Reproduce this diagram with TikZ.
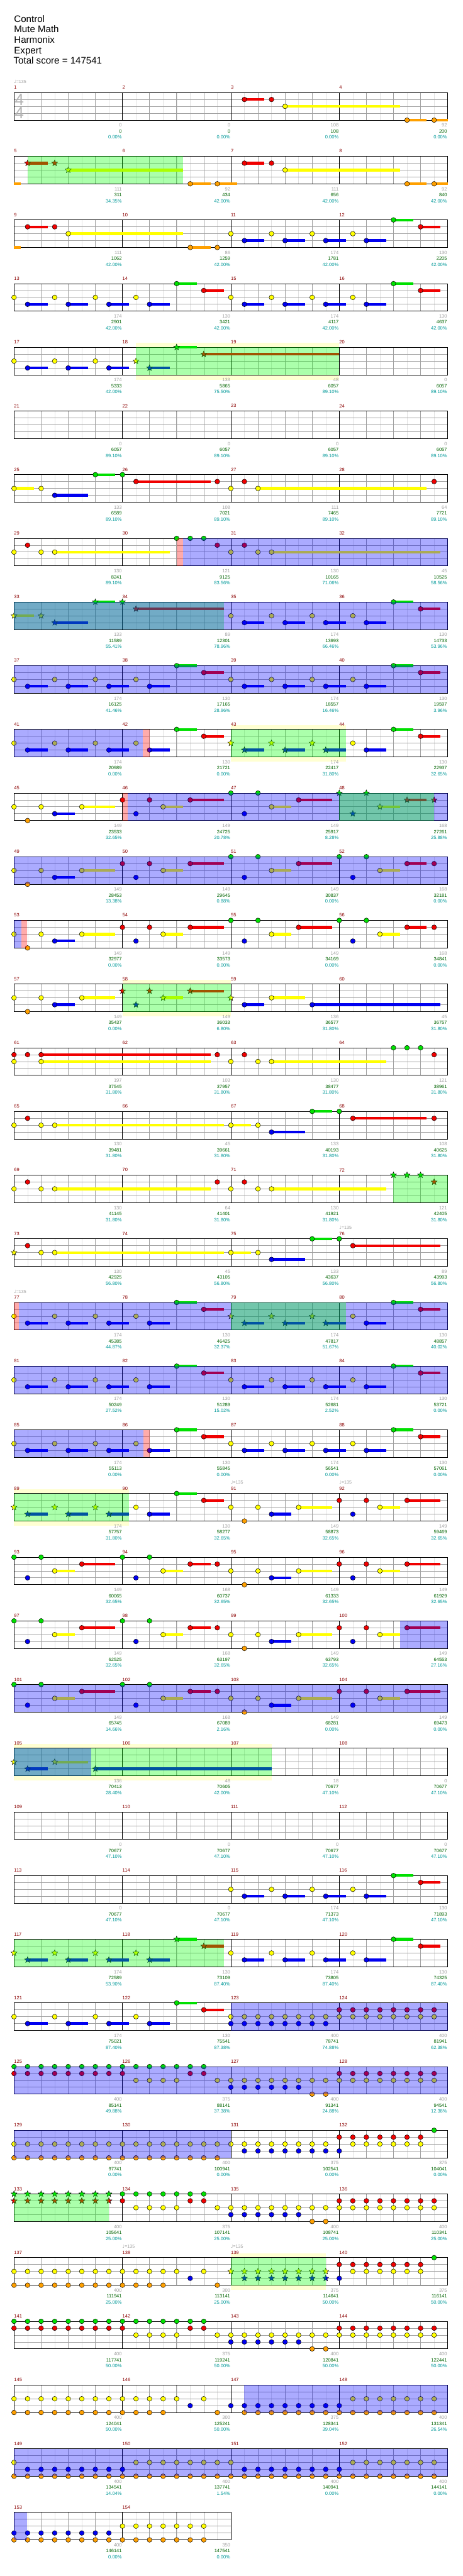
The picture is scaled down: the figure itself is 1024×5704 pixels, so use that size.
\documentclass[tikz,border=0pt]{standalone}
\usepackage{fontspec}
\setmainfont{Liberation Sans}
\newfontfamily\symf{DejaVu Sans}
\usetikzlibrary{shapes.geometric}
\definecolor{cG}{HTML}{00E000}
\definecolor{cR}{HTML}{F00000}
\definecolor{cY}{HTML}{FFFF00}
\definecolor{cB}{HTML}{0000F0}
\definecolor{cO}{HTML}{FFA000}
\definecolor{mred}{HTML}{8B0000}
\definecolor{ngray}{HTML}{A0A0A0}
\definecolor{ngreen}{HTML}{006400}
\definecolor{nteal}{HTML}{009999}
\definecolor{hlY}{HTML}{FFFFD2}
\definecolor{lgrid}{HTML}{E2E2E2}
\definecolor{bgrid}{HTML}{A0A0A0}
\definecolor{tsg}{HTML}{B4B4B4}
\tikzset{
 rowat/.style={shift={(31pt,{-205pt-141pt*(#1)})},x=60pt,y=-15.25pt},
 note/.style={circle,draw=black,line width=0.7pt,minimum size=10.6pt,inner sep=0pt},
 snote/.style={star,star points=5,star point ratio=2.3,draw=black,line width=0.6pt,minimum size=14pt,inner sep=0pt},
 sus/.style={line width=6pt},
 mnum/.style={anchor=west,inner sep=0pt,text=mred,font=\fontsize{10.5}{12}\selectfont},
 snum/.style={anchor=east,inner sep=0pt,font=\fontsize{10.5}{12}\selectfont},
 tmp/.style={anchor=west,inner sep=0pt,text=ngray,font=\fontsize{10}{12}\selectfont},
 tsig/.style={anchor=west,inner sep=0pt,text=tsg,font=\fontsize{36}{40}\selectfont},
 hdr/.style={anchor=base west,inner sep=0pt,font=\fontsize{21}{24}\selectfont},
}
\newcommand\nt[3]{\node[note,fill=#3] at (#1,#2) {};}
\newcommand\stn[3]{\node[snote,fill=#3] at (#1,#2) {};}
\newcommand\su[4]{\draw[sus,#4] (#1,#3) -- (#2,#3);}
\newcommand\nG[1]{\nt{#1}{0}{cG}}
\newcommand\nR[1]{\nt{#1}{1}{cR}}
\newcommand\nY[1]{\nt{#1}{2}{cY}}
\newcommand\nB[1]{\nt{#1}{3}{cB}}
\newcommand\nO[1]{\nt{#1}{4}{cO}}
\newcommand\sG[2]{\su{#1}{#2}{0}{cG}\nG{#1}}
\newcommand\sR[2]{\su{#1}{#2}{1}{cR}\nR{#1}}
\newcommand\sY[2]{\su{#1}{#2}{2}{cY}\nY{#1}}
\newcommand\sB[2]{\su{#1}{#2}{3}{cB}\nB{#1}}
\newcommand\sO[2]{\su{#1}{#2}{4}{cO}\nO{#1}}
\newcommand\tG[1]{\stn{#1}{0}{cG}}
\newcommand\tR[1]{\stn{#1}{1}{cR}}
\newcommand\tY[1]{\stn{#1}{2}{cY}}
\newcommand\tB[1]{\stn{#1}{3}{cB}}
\newcommand\uG[2]{\su{#1}{#2}{0}{cG}\tG{#1}}
\newcommand\uR[2]{\su{#1}{#2}{1}{cR}\tR{#1}}
\newcommand\uY[2]{\su{#1}{#2}{2}{cY}\tY{#1}}
\newcommand\uB[2]{\su{#1}{#2}{3}{cB}\tB{#1}}
\newcommand\ovG[2]{\fill[green,opacity=.33] (#1,0) rectangle (#2,4);}
\newcommand\ovB[2]{\fill[blue,opacity=.33] (#1,0) rectangle (#2,4);}
\newcommand\ovP[2]{\fill[red,opacity=.33] (#1,0) rectangle (#2,4);}
\newcommand\hl[2]{\fill[hlY] (#1,-0.66) rectangle (#2,4.72);}
\newcommand\tempo[1]{\node[tmp] at (#1,-1.6) {{\symf\symbol{"2669}}=135};}
\newcommand\scr[4]{\node[snum,text=ngray] at ({4*#1+3.98},4.75) {#2};\node[snum,text=ngreen] at ({4*#1+3.98},5.61) {#3};\node[snum,text=nteal] at ({4*#1+3.98},6.48) {#4\%};}
\newcommand\staff[2]{%
 \pgfmathtruncatemacro\nb{4*#2}%
 \pgfmathtruncatemacro\nm{#2-1}%
 \fill[white] (0,0) rectangle (\nb,4);
 \foreach \i in {0.5,1,...,\nb} \draw[lgrid,line width=0.7pt] (\i,0) -- (\i,4);
 \foreach \i in {1,...,\nb} \draw[bgrid,line width=0.8pt] (\i,0) -- (\i,4);
 \foreach \j in {1,2,3} \draw[bgrid,line width=1.1pt] (0,\j) -- (\nb,\j);
 \foreach \i in {4,8,...,\nb} \draw[black,line width=0.6pt] (\i,0) -- (\i,4);
 \draw[black,line width=1.2pt] (0,0) rectangle (\nb,4);
 \foreach \k in {0,...,\nm}{\pgfmathtruncatemacro\mm{#1+\k}\node[mnum] at (4*\k,-0.74) {\mm};}
}
\newcommand\patA[1]{\nY{#1}\sB{#1+0.5}{#1+1.24}\nY{#1+1.5}\sB{#1+2}{#1+2.74}\nY{#1+3}\sB{#1+3.5}{#1+4.24}\nY{#1+4.5}\sB{#1+5}{#1+5.74}\sG{#1+6}{#1+6.74}\sR{#1+7}{#1+7.74}}
\newcommand\patAs[1]{\tY{#1}\uB{#1+0.5}{#1+1.24}\tY{#1+1.5}\uB{#1+2}{#1+2.74}\tY{#1+3}\uB{#1+3.5}{#1+4.24}\tY{#1+4.5}\uB{#1+5}{#1+5.74}\uG{#1+6}{#1+6.74}\uR{#1+7}{#1+7.74}}
\newcommand\patD{\tY{8}\uB{8.5}{9.24}\tY{9.5}\uB{10}{10.74}\tY{11}\uB{11.5}{12.24}\nY{12.5}\sB{13}{13.74}\sG{14}{14.74}\sR{15}{15.74}}
\newcommand\patBa{\nY{0}\nO{0.5}\nY{1}\sB{1.5}{2.24}\sY{2.5}{3.74}}
\newcommand\patBb{\nR{4}\nB{4.5}\nR{5}\sY{5.5}{6.24}\sR{6.5}{7.74}\nG{8}\nB{8.5}\nG{9}\sY{9.5}{10.23}\sR{10.5}{11.74}}
\newcommand\patBc{\nG{12}\nB{12.5}\nG{13}\sY{13.5}{14.24}\sR{14.5}{15.23}\nR{15.5}}
\newcommand\patCa{\nG{0}\nB{0.5}\nG{1}\sY{1.5}{2.24}\sR{2.5}{3.74}\nG{4}\nB{4.5}\nG{5}\sY{5.5}{6.24}\sR{6.5}{7.25}\nR{7.5}}
\newcommand\patCb{\nY{8}\nO{8.5}\nY{9}\sB{9.5}{10.23}\sY{10.5}{11.74}\nR{12}\nB{12.5}\nR{13}\sY{13.5}{14.24}\sR{14.5}{15.73}}
\newcommand\patEb{\foreach \q in {4,4.5,...,7}{\nG{\q}}\nR{4}\foreach \q in {4.5,5,...,6}{\nY{\q}}\nR{6.5}\nR{7}\nY{7.5}\foreach \q in {8,8.5,...,10.5}{\nY{\q}\nB{\q}}\nY{11}\nO{11}\nY{11.5}\nO{11.5}\foreach \q in {12,12.5,...,15.5}{\nR{\q}\nY{\q}}}
\newcommand\patE{\foreach \q in {0,0.5,...,3.5}{\nG{\q}\nR{\q}}\patEb}
\begin{document}
\begin{tikzpicture}
\path[use as bounding box,fill=white] (0pt,0pt) rectangle (1024pt,-5704pt);
\node[hdr] at (31pt,-49.3pt) {Control};
\node[hdr] at (31pt,-72.4pt) {Mute Math};
\node[hdr] at (31pt,-95.5pt) {Harmonix};
\node[hdr] at (31pt,-118.6pt) {Expert};
\node[hdr] at (30pt,-141.7pt) {Total score = 147541};
% row 0
\begin{scope}[rowat=0]
\staff{1}{4}
\node[tsig] at (0.03,1) {4};\node[tsig] at (0.03,3) {4};
\tempo{0}
\sR{8.5}{9.24}\nR{9.5}\sY{10}{14.24}\sO{14.5}{15.23}\sO{15.5}{16}
\scr{0}{0}{0}{0.00}\scr{1}{0}{0}{0.00}\scr{2}{108}{108}{0.00}\scr{3}{92}{200}{0.00}
\end{scope}
% row 1
\begin{scope}[rowat=1]
\staff{5}{4}
\su{0}{0.24}{4}{cO}\uR{0.5}{1.24}\tR{1.5}\uY{2}{6.24}\sO{6.5}{7.25}\sO{7.5}{8.24}\sR{8.5}{9.24}\nR{9.5}\sY{10}{14.24}\sO{14.5}{15.23}\sO{15.5}{16}
\ovG{0.5}{6.24}
\scr{0}{111}{311}{34.35}\scr{1}{92}{434}{42.00}\scr{2}{111}{656}{42.00}\scr{3}{92}{840}{42.00}
\end{scope}
% row 2
\begin{scope}[rowat=2]
\staff{9}{4}
\su{0}{0.24}{4}{cO}\sR{0.5}{1.24}\nR{1.5}\sY{2}{6.24}\sO{6.5}{7.25}\nO{7.5}\patA{8}
\scr{0}{111}{1062}{42.00}\scr{1}{86}{1259}{42.00}\scr{2}{174}{1781}{42.00}\scr{3}{130}{2205}{42.00}
\end{scope}
% row 3
\begin{scope}[rowat=3]
\staff{13}{4}
\patA{0}\patA{8}
\scr{0}{174}{2901}{42.00}\scr{1}{130}{3421}{42.00}\scr{2}{174}{4117}{42.00}\scr{3}{130}{4637}{42.00}
\end{scope}
% row 4
\begin{scope}[rowat=4]
\hl{4.5}{12}
\staff{17}{4}
\nY{0}\sB{0.5}{1.24}\nY{1.5}\sB{2}{2.74}\nY{3}\sB{3.5}{4.24}\tY{4.5}\uB{5}{5.74}\uG{6}{6.74}\uR{7}{12}
\ovG{4.5}{12}
\scr{0}{174}{5333}{42.00}\scr{1}{133}{5865}{75.50}\scr{2}{48}{6057}{89.10}\scr{3}{0}{6057}{89.10}
\end{scope}
% row 5
\begin{scope}[rowat=5]
\staff{21}{4}
\scr{0}{0}{6057}{89.10}\scr{1}{0}{6057}{89.10}\scr{2}{0}{6057}{89.10}\scr{3}{0}{6057}{89.10}
\end{scope}
% row 6
\begin{scope}[rowat=6]
\staff{25}{4}
\sY{0}{0.74}\nY{1}\sB{1.5}{2.74}\sG{3}{3.74}\nG{4}\sR{4.5}{7.25}\nR{7.5}\nY{8}\nR{8.5}\sY{9}{15.23}\nR{15.5}
\scr{0}{133}{6589}{89.10}\scr{1}{108}{7021}{89.10}\scr{2}{111}{7465}{89.10}\scr{3}{64}{7721}{89.10}
\end{scope}
% row 7
\begin{scope}[rowat=7]
\staff{29}{4}
\nY{0}\nR{0.5}\nY{1}\sY{1.5}{5.74}\nG{6}\nG{6.5}\nG{7}\nR{7.5}\nY{8}\nR{8.5}\nY{9}\sY{9.5}{15.73}
\ovP{6}{6.24}\ovB{6.24}{16}
\scr{0}{130}{8241}{89.10}\scr{1}{121}{9125}{83.56}\scr{2}{130}{10165}{71.06}\scr{3}{45}{10525}{58.56}
\end{scope}
% row 8
\begin{scope}[rowat=8]
\staff{33}{4}
\uY{0}{0.74}\tY{1}\uB{1.5}{2.74}\uG{3}{3.74}\tG{4}\uR{4.5}{7.74}\patA{8}
\ovG{0}{7.74}\ovB{0}{16}
\scr{0}{133}{11589}{55.41}\scr{1}{89}{12301}{78.96}\scr{2}{174}{13693}{66.46}\scr{3}{130}{14733}{53.96}
\end{scope}
% row 9
\begin{scope}[rowat=9]
\staff{37}{4}
\patA{0}\patA{8}
\ovB{0}{16}
\scr{0}{174}{16125}{41.46}\scr{1}{130}{17165}{28.96}\scr{2}{174}{18557}{16.46}\scr{3}{130}{19597}{3.96}
\end{scope}
% row 10
\begin{scope}[rowat=10]
\hl{8}{12.24}
\staff{41}{4}
\patA{0}\patD
\ovB{0}{4.76}\ovP{4.76}{5}\ovG{8}{12.24}
\scr{0}{174}{20989}{0.00}\scr{1}{130}{21721}{0.00}\scr{2}{174}{22417}{31.80}\scr{3}{130}{22937}{32.65}
\end{scope}
% row 11
\begin{scope}[rowat=11]
\staff{45}{4}
\patBa\patBb\tG{12}\tB{12.5}\tG{13}\uY{13.5}{14.24}\uR{14.5}{15.23}\tR{15.5}
\ovP{4}{4.2}\ovB{4.2}{16}\ovG{12}{15.5}
\scr{0}{149}{23533}{32.65}\scr{1}{149}{24725}{20.78}\scr{2}{149}{25917}{8.28}\scr{3}{168}{27261}{25.88}
\end{scope}
% row 12
\begin{scope}[rowat=12]
\staff{49}{4}
\patBa\patBb\patBc
\ovB{0}{16}
\scr{0}{149}{28453}{13.38}\scr{1}{149}{29645}{0.88}\scr{2}{149}{30837}{0.00}\scr{3}{168}{32181}{0.00}
\end{scope}
% row 13
\begin{scope}[rowat=13]
\staff{53}{4}
\patBa\patBb\patBc
\ovB{0}{0.27}\ovP{0.27}{0.48}
\scr{0}{149}{32977}{0.00}\scr{1}{149}{33573}{0.00}\scr{2}{149}{34169}{0.00}\scr{3}{168}{34841}{0.00}
\end{scope}
% row 14
\begin{scope}[rowat=14]
\hl{4}{8}
\staff{57}{4}
\patBa\tR{4}\tB{4.5}\tR{5}\uY{5.5}{6.24}\uR{6.5}{7.74}\tY{8}\sB{8.5}{9.24}\sY{9.5}{10.74}\sB{11}{15.73}
\ovG{4}{8}
\scr{0}{149}{35437}{0.00}\scr{1}{149}{36033}{6.80}\scr{2}{136}{36577}{31.80}\scr{3}{45}{36757}{31.80}
\end{scope}
% row 15
\begin{scope}[rowat=15]
\staff{61}{4}
\nR{0}\nY{0}\nR{0.5}\sR{1}{7.25}\sY{1}{7.25}\nR{7.5}\nY{8}\nR{8.5}\nY{9}\sY{9.5}{13.73}\nG{14}\nG{14.5}\nG{15}\nR{15.5}
\scr{0}{197}{37545}{31.80}\scr{1}{103}{37957}{31.80}\scr{2}{130}{38477}{31.80}\scr{3}{121}{38961}{31.80}
\end{scope}
% row 16
\begin{scope}[rowat=16]
\staff{65}{4}
\nY{0}\nR{0.5}\nY{1}\sY{1.5}{7.74}\sY{8}{8.74}\nY{9}\sB{9.5}{10.74}\sG{11}{11.74}\nG{12}\sR{12.5}{15.23}\nR{15.5}
\scr{0}{130}{39481}{31.80}\scr{1}{45}{39661}{31.80}\scr{2}{133}{40193}{31.80}\scr{3}{108}{40625}{31.80}
\end{scope}
% row 17
\begin{scope}[rowat=17]
\staff{69}{4}
\nY{0}\nR{0.5}\nY{1}\sY{1.5}{7.25}\nR{7.5}\nY{8}\nR{8.5}\nY{9}\sY{9.5}{13.73}\tG{14}\tG{14.5}\tG{15}\tR{15.5}
\ovG{14}{16}
\scr{0}{130}{41145}{31.80}\scr{1}{64}{41401}{31.80}\scr{2}{130}{41921}{31.80}\scr{3}{121}{42405}{31.80}
\end{scope}
% row 18
\begin{scope}[rowat=18]
\staff{73}{4}
\tempo{12}
\tY{0}\nR{0.5}\nY{1}\sY{1.5}{7.74}\sY{8}{8.74}\nY{9}\sB{9.5}{10.74}\sG{11}{11.74}\nG{12}\sR{12.5}{15.73}
\scr{0}{130}{42925}{56.80}\scr{1}{45}{43105}{56.80}\scr{2}{133}{43637}{56.80}\scr{3}{89}{43993}{56.80}
\end{scope}
% row 19
\begin{scope}[rowat=19]
\staff{77}{4}
\tempo{0}
\patA{0}\patD
\ovP{0}{0.17}\ovB{0.17}{16}\ovG{8}{12.24}
\scr{0}{174}{45385}{44.87}\scr{1}{130}{46425}{32.37}\scr{2}{174}{47817}{51.67}\scr{3}{130}{48857}{40.02}
\end{scope}
% row 20
\begin{scope}[rowat=20]
\staff{81}{4}
\patA{0}\patA{8}
\ovB{0}{16}
\scr{0}{174}{50249}{27.52}\scr{1}{130}{51289}{15.02}\scr{2}{174}{52681}{2.52}\scr{3}{130}{53721}{0.00}
\end{scope}
% row 21
\begin{scope}[rowat=21]
\staff{85}{4}
\patA{0}\patA{8}
\ovB{0}{4.78}\ovP{4.78}{5}
\scr{0}{174}{55113}{0.00}\scr{1}{130}{55845}{0.00}\scr{2}{174}{56541}{0.00}\scr{3}{130}{57061}{0.00}
\end{scope}
% row 22
\begin{scope}[rowat=22]
\hl{0}{4.24}
\staff{89}{4}
\tempo{8}\tempo{12}
\tY{0}\uB{0.5}{1.24}\tY{1.5}\uB{2}{2.74}\tY{3}\uB{3.5}{4.24}\nY{4.5}\sB{5}{5.74}\sG{6}{6.74}\sR{7}{7.74}\patCb
\ovG{0}{4.24}
\scr{0}{174}{57757}{31.80}\scr{1}{130}{58277}{32.65}\scr{2}{149}{58873}{32.65}\scr{3}{149}{59469}{32.65}
\end{scope}
% row 23
\begin{scope}[rowat=23]
\staff{93}{4}
\patCa\patCb
\scr{0}{149}{60065}{32.65}\scr{1}{168}{60737}{32.65}\scr{2}{149}{61333}{32.65}\scr{3}{149}{61929}{32.65}
\end{scope}
% row 24
\begin{scope}[rowat=24]
\staff{97}{4}
\patCa\patCb
\ovB{14.24}{16}
\scr{0}{149}{62525}{32.65}\scr{1}{168}{63197}{32.65}\scr{2}{149}{63793}{32.65}\scr{3}{149}{64553}{27.16}
\end{scope}
% row 25
\begin{scope}[rowat=25]
\staff{101}{4}
\patCa\patCb
\ovB{0}{16}
\scr{0}{149}{65745}{14.66}\scr{1}{168}{67089}{2.16}\scr{2}{149}{68281}{0.00}\scr{3}{149}{69473}{0.00}
\end{scope}
% row 26
\begin{scope}[rowat=26]
\hl{0}{9.5}
\staff{105}{4}
\tY{0}\uB{0.5}{1.24}\uY{1.5}{2.74}\uB{3}{9.5}
\ovG{0}{9.5}\ovB{0}{2.84}
\scr{0}{136}{70413}{28.40}\scr{1}{48}{70605}{42.00}\scr{2}{18}{70677}{47.10}\scr{3}{0}{70677}{47.10}
\end{scope}
% row 27
\begin{scope}[rowat=27]
\staff{109}{4}
\scr{0}{0}{70677}{47.10}\scr{1}{0}{70677}{47.10}\scr{2}{0}{70677}{47.10}\scr{3}{0}{70677}{47.10}
\end{scope}
% row 28
\begin{scope}[rowat=28]
\staff{113}{4}
\patA{8}
\scr{0}{0}{70677}{47.10}\scr{1}{0}{70677}{47.10}\scr{2}{174}{71373}{47.10}\scr{3}{130}{71893}{47.10}
\end{scope}
% row 29
\begin{scope}[rowat=29]
\staff{117}{4}
\patAs{0}\patA{8}
\ovG{0}{7.74}
\scr{0}{174}{72589}{53.90}\scr{1}{130}{73109}{87.40}\scr{2}{174}{73805}{87.40}\scr{3}{130}{74325}{87.40}
\end{scope}
% row 30
\begin{scope}[rowat=30]
\staff{121}{4}
\patA{0}\foreach \q in {8,8.5,...,11.5}{\nY{\q}\nB{\q}}\foreach \q in {12,12.5,...,15.5}{\nR{\q}\nY{\q}}
\ovB{8}{16}
\scr{0}{174}{75021}{87.40}\scr{1}{130}{75541}{87.38}\scr{2}{400}{78741}{74.88}\scr{3}{400}{81941}{62.38}
\end{scope}
% row 31
\begin{scope}[rowat=31]
\staff{125}{4}
\patE
\ovB{0}{16}
\scr{0}{400}{85141}{49.88}\scr{1}{375}{88141}{37.38}\scr{2}{400}{91341}{24.88}\scr{3}{400}{94541}{12.38}
\end{scope}
% row 32
\begin{scope}[rowat=32]
\staff{129}{4}
\foreach \q in {0,0.5,...,7.5}{\nY{\q}\nO{\q}}\nY{8}\foreach \q in {8.5,9,...,11.5}{\nY{\q}}\foreach \q in {8.5,9,...,12}{\nB{\q}}\foreach \q in {12,12.5,...,15}{\nR{\q}}\foreach \q in {12.5,13,...,15}{\nY{\q}}\nG{15.5}
\ovB{0}{8}
\scr{0}{400}{97741}{0.00}\scr{1}{400}{100941}{0.00}\scr{2}{375}{102541}{0.00}\scr{3}{375}{104041}{0.00}
\end{scope}
% row 33
\begin{scope}[rowat=33]
\staff{133}{4}
\foreach \q in {0,0.5,...,3.5}{\tG{\q}\tR{\q}}\patEb
\ovG{0}{3.5}
\scr{0}{400}{105641}{25.00}\scr{1}{375}{107141}{25.00}\scr{2}{400}{108741}{25.00}\scr{3}{400}{110341}{25.00}
\end{scope}
% row 34
\begin{scope}[rowat=34]
\hl{8}{11.5}
\staff{137}{4}
\tempo{4}\tempo{8}
\foreach \q in {0,0.5,...,6}{\nY{\q}}\foreach \q in {0,0.5,...,5.5}{\nO{\q}}\nB{6.5}\nY{7}\nO{7.5}\foreach \q in {8,8.5,...,11.5}{\tY{\q}}\foreach \q in {8.5,9,...,11.5}{\tB{\q}}\nB{12}\foreach \q in {12,12.5,...,15}{\nR{\q}}\foreach \q in {12.5,13,...,15}{\nY{\q}}\nG{15.5}
\ovG{8}{11.5}
\scr{0}{400}{111941}{25.00}\scr{1}{300}{113141}{25.00}\scr{2}{375}{114641}{50.00}\scr{3}{375}{116141}{50.00}
\end{scope}
% row 35
\begin{scope}[rowat=35]
\staff{141}{4}
\patE
\scr{0}{400}{117741}{50.00}\scr{1}{375}{119241}{50.00}\scr{2}{400}{120841}{50.00}\scr{3}{400}{122441}{50.00}
\end{scope}
% row 36
\begin{scope}[rowat=36]
\staff{145}{4}
\foreach \q in {0,0.5,...,6}{\nY{\q}}\foreach \q in {0,0.5,...,5.5}{\nO{\q}}\nB{6.5}\nY{7}\nO{7.5}\nB{8}\foreach \q in {8.5,9,...,12}{\nB{\q}}\foreach \q in {8.5,9,...,15.5}{\nO{\q}}\foreach \q in {12.5,13,...,15.5}{\nY{\q}}
\ovB{8.5}{16}
\scr{0}{400}{124041}{50.00}\scr{1}{300}{125241}{50.00}\scr{2}{375}{128341}{39.04}\scr{3}{400}{131341}{26.54}
\end{scope}
% row 37
\begin{scope}[rowat=37]
\staff{149}{4}
\nY{0}\foreach \q in {0.5,1,...,4}{\nB{\q}}\foreach \q in {0,0.5,...,15.5}{\nO{\q}}\foreach \q in {4.5,5,...,8}{\nY{\q}}\foreach \q in {8.5,9,...,12}{\nB{\q}}\foreach \q in {12.5,13,...,15.5}{\nY{\q}}
\ovB{0}{16}
\scr{0}{400}{134541}{14.04}\scr{1}{400}{137741}{1.54}\scr{2}{400}{140941}{0.00}\scr{3}{400}{144141}{0.00}
\end{scope}
% row 38
\begin{scope}[rowat=38]
\staff{153}{2}
\foreach \q in {0,0.5,...,3.5}{\nB{\q}}\foreach \q in {0,0.5,...,7}{\nO{\q}}\foreach \q in {4,4.5,...,7}{\nY{\q}}
\ovB{0}{0.48}
\scr{0}{400}{146141}{0.00}\scr{1}{350}{147541}{0.00}
\end{scope}
\end{tikzpicture}
\end{document}
